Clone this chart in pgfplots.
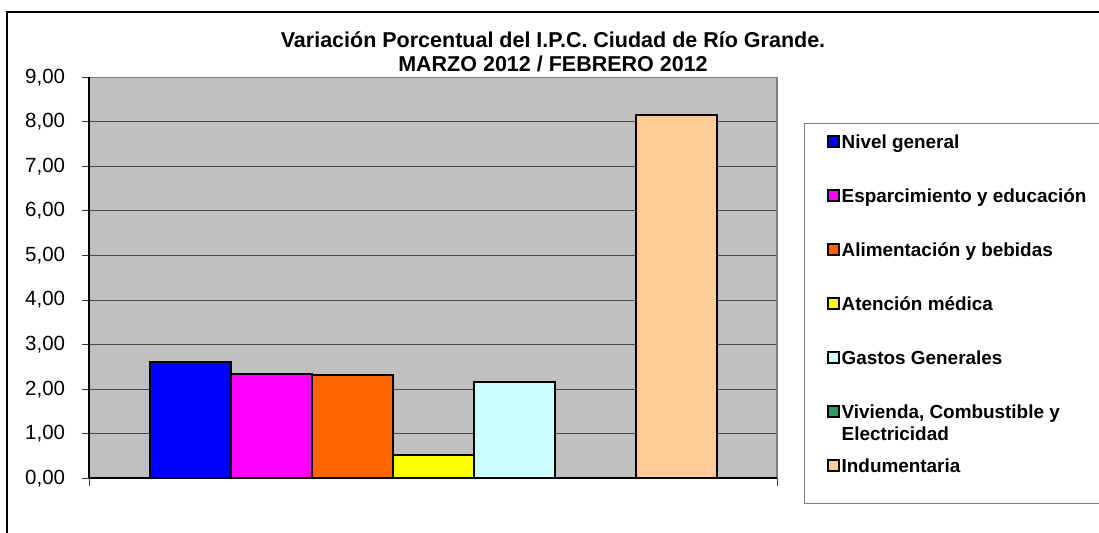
\documentclass[border=0pt]{standalone}
\usepackage{pgfplots}
\pgfplotsset{compat=1.18}
\usepackage{fontspec}
\setmainfont{Liberation Sans}
\definecolor{plotbg}{HTML}{C0C0C0}
\definecolor{bordergray}{HTML}{808080}
\definecolor{cNivel}{HTML}{0000FF}
\definecolor{cEsparc}{HTML}{FF00FF}
\definecolor{cAlim}{HTML}{FF6600}
\definecolor{cAtenc}{HTML}{FFFF00}
\definecolor{cGastos}{HTML}{CCFFFF}
\definecolor{cViv}{HTML}{339966}
\definecolor{cIndum}{HTML}{FFCC99}
\begin{document}
\begin{tikzpicture}
\useasboundingbox (0bp,0bp) rectangle (1099bp,533bp);
% outer chart frame (cropped at right and bottom)
\draw[line width=2.2bp] (7bp,-20bp) -- (7bp,521bp) -- (1120bp,521bp);
% legend box
\draw[bordergray, line width=1bp] (804bp,29bp) rectangle (1120bp,409bp);
% title
\node[anchor=base, font=\fontsize{21.5bp}{24bp}\selectfont\bfseries, inner sep=0pt] at (553bp,485.5bp) {Variación Porcentual del I.P.C. Ciudad de Río Grande.};
\node[anchor=base, font=\fontsize{21.5bp}{24bp}\selectfont\bfseries, inner sep=0pt] at (553bp,461bp) {MARZO 2012 / FEBRERO 2012};
\begin{axis}[
  at={(89.3bp,54.7bp)}, anchor=south west,
  scale only axis, width=687.7bp, height=401bp,
  xmin=-1.245, xmax=7.245, ymin=0, ymax=9,
  ybar, bar width=1,
  axis background/.style={fill=plotbg},
  axis line style={draw=bordergray, line width=1.5bp},
  ytick={0,1,2,3,4,5,6,7,8,9},
  xtick={-1.245,7.245}, xticklabels={},
  ytick pos=left, xtick pos=bottom,
  tick align=outside, major tick length=7.5bp,
  tick style={black!80, line width=1bp},
  ymajorgrids, major grid style={black!72, line width=1bp},
  yticklabel style={font=\fontsize{20.5bp}{24bp}\selectfont, anchor=east, inner sep=0pt, xshift=-16.5bp},
  /pgf/number format/.cd, assume math mode=true, fixed, fixed zerofill, precision=2, use comma,
  /pgfplots/.cd,
  legend image code/.code={\draw[#1, line width=1.6bp] (0bp,1.3bp) rectangle (11bp,12.3bp);},
  legend style={draw=none, fill=none, inner sep=0pt, outer sep=0pt,
    row sep=36bp, column sep=1.6bp,
    nodes={inner sep=0pt, text height=14bp, text depth=4bp},
    cells={anchor=base west},
    font=\fontsize{18.9bp}{22bp}\selectfont\bfseries,
    at={(1.0734,0.8576)}, anchor=north west},
  every axis plot/.append style={draw=black, line width=2bp, bar shift=0pt},
]
\addplot[fill=cNivel, bar shift=0pt] coordinates {(0,2.62)};
\addlegendentry{Nivel general}
\addplot[fill=cEsparc, bar shift=0pt] coordinates {(1,2.34)};
\addlegendentry{Esparcimiento y educación}
\addplot[fill=cAlim, bar shift=0pt] coordinates {(2,2.31)};
\addlegendentry{Alimentación y bebidas}
\addplot[fill=cAtenc, bar shift=0pt] coordinates {(3,0.53)};
\addlegendentry{Atención médica}
\addplot[fill=cGastos, bar shift=0pt] coordinates {(4,2.16)};
\addlegendentry{Gastos Generales}
\addplot[fill=cViv, bar shift=0pt] coordinates {(5,0)};
\addlegendentry{\parbox[t]{230bp}{\raggedright Vivienda, Combustible y\\Electricidad}}
\addplot[fill=cIndum, bar shift=0pt] coordinates {(6,8.16)};
\addlegendentry{Indumentaria}
\end{axis}
% black left and bottom axis lines
\draw[black, line width=1.8bp] (89.3bp,54.7bp) -- (89.3bp,455.7bp);
\draw[black, line width=1.8bp] (89.3bp,54.7bp) -- (777bp,54.7bp);
\end{tikzpicture}
\end{document}
